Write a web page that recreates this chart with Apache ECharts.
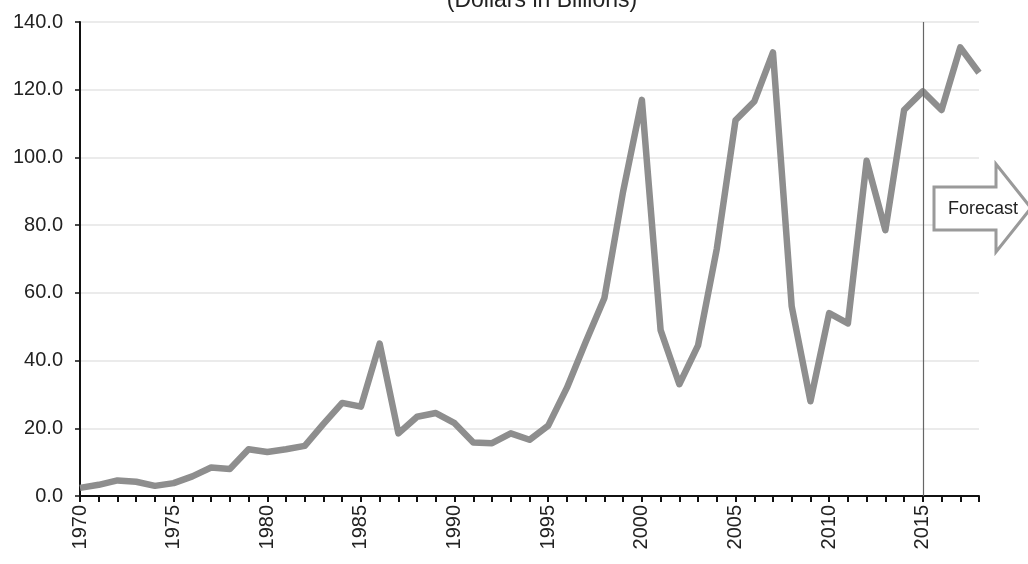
<!DOCTYPE html>
<html>
<head>
<meta charset="utf-8">
<script src="https://cdn.jsdelivr.net/npm/echarts@6/dist/echarts.min.js"></script>
<style>
html,body{margin:0;padding:0;background:#fff;}
#chart{width:1028px;height:564px;}
</style>
</head>
<body>
<div id="chart"></div>
<script>
var years = [];
for (var y = 1970; y <= 2018; y++) years.push(String(y));

var values = [
  2.4, 3.3, 4.6, 4.2, 3.0, 3.8, 5.8, 8.4, 8.0, 13.8,
  13.0, 13.8, 14.8, 21.3, 27.5, 26.4, 45.0, 18.5, 23.4, 24.5,
  21.5, 15.8, 15.6, 18.5, 16.6, 20.8, 32.0, 45.5, 58.5, 90.0,
  117.0, 49.0, 33.0, 44.5, 73.0, 111.0, 116.5, 131.0, 56.0, 28.0,
  54.0, 51.0, 99.0, 78.5, 114.0, 119.5, 114.0, 132.5, 125.0
];

var forecastYear = '2015';
var titleText = '(Dollars in Billions)';
var forecastLabel = 'Forecast';

var chart = echarts.init(document.getElementById('chart'), null, {renderer: 'canvas'});
var font = '"Liberation Sans", Arial, sans-serif';

chart.setOption({
  animation: false,
  backgroundColor: '#ffffff',
  grid: {left: 80, right: 49, top: 22, bottom: 68, containLabel: false},
  xAxis: {
    type: 'category',
    data: years,
    boundaryGap: false,
    axisLine: {lineStyle: {color: '#111', width: 2}},
    axisTick: {show: true, interval: 0, length: 6, lineStyle: {color: '#111', width: 2}},
    axisLabel: {
      interval: 4, rotate: 90, margin: 9,
      fontSize: 20, color: '#222', fontFamily: font
    },
    splitLine: {show: false}
  },
  yAxis: {
    type: 'value',
    min: 0, max: 140, interval: 20,
    axisLine: {show: true, lineStyle: {color: '#111', width: 2}},
    axisTick: {show: true, length: 5, lineStyle: {color: '#111', width: 1.5}},
    axisLabel: {
      margin: 17, fontSize: 20, color: '#222', fontFamily: font,
      formatter: function (v) { return v.toFixed(1); }
    },
    splitLine: {show: true, lineStyle: {color: '#ebebeb', width: 2}}
  },
  series: [{
    type: 'line',
    data: values,
    symbol: 'none',
    smooth: false,
    lineStyle: {color: '#8e8e8e', width: 6.5, join: 'round'},
    z: 3,
    markLine: {
      silent: true,
      symbol: 'none',
      label: {show: false},
      lineStyle: {color: '#666', width: 1.2, type: 'solid'},
      data: [{xAxis: forecastYear}]
    }
  }],
  graphic: [
    {
      type: 'text',
      x: 542, y: 12,
      style: {text: titleText, font: '23px ' + font, fill: '#222', align: 'center', verticalAlign: 'bottom'}
    },
    {
      type: 'polygon',
      shape: {points: [[934,187],[996,187],[996,164],[1031,208],[996,252],[996,230],[934,230]]},
      style: {fill: '#ffffff', stroke: '#9a9a9a', lineWidth: 3},
      z: 10
    },
    {
      type: 'text',
      x: 983, y: 209,
      style: {text: forecastLabel, font: '18px ' + font, fill: '#222', align: 'center', verticalAlign: 'middle'},
      z: 11
    }
  ]
});
</script>
</body>
</html>
